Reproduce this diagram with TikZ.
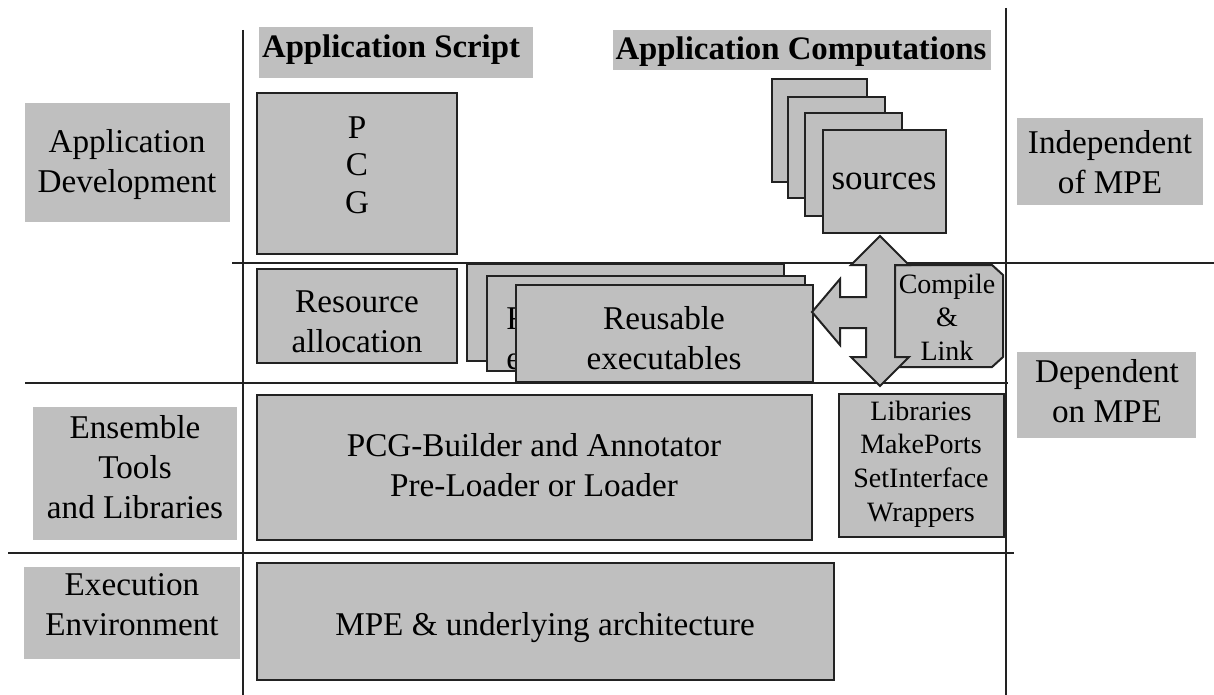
\documentclass[tikz,border=0pt]{standalone}
\usepackage{fontspec}
\setmainfont{Liberation Serif}
\usetikzlibrary{fit}
\definecolor{panel}{HTML}{BFBFBF}
\definecolor{edge}{HTML}{222222}
\tikzset{
  sepline/.style={line width=1pt, draw=edge},
  tag/.style={fill=panel, inner sep=0pt},
  box/.style={fill=panel, draw=edge, line width=1pt, inner sep=0pt},
  txt/.style={align=center, inner sep=0pt, font=\fontsize{16.6}{20}\selectfont},
  pcgtxt/.style={align=center, inner sep=0pt, font=\fontsize{16.6}{18.75}\selectfont},
  small/.style={align=center, inner sep=0pt, font=\fontsize{14}{16.8}\selectfont},
  head/.style={inner sep=0pt, font=\fontsize{16.4}{20}\selectfont\bfseries},
}
\begin{document}
\begin{tikzpicture}[x=0.5pt,y=-0.5pt]
\useasboundingbox (0,0) rectangle (1214,695);

% layer separators
\draw[sepline] (243,30) -- (243,695);
\draw[sepline] (1006,8) -- (1006,695);
\draw[sepline] (232,263) -- (1214,263);
\draw[sepline] (25,383) -- (1008,383);
\draw[sepline] (8,553) -- (1014,553);

% layer titles on the left
\node[tag, fit={(25,103) (230,222)}] (appdev) {};
\node[txt] at (127,165) {Application\\Development};
\node[tag, fit={(33,407) (237,540)}] (ens) {};
\node[txt] at (135,467) {Ensemble\\Tools\\and Libraries};
\node[tag, fit={(24,567) (240,659)}] (exe) {};
\node[txt] at (132,605) {Execution\\Environment};

% titles on the right
\node[tag, fit={(1017,118) (1203,205)}] (indep) {};
\node[txt] at (1110,162) {Independent\\of MPE};
\node[tag, fit={(1017,352) (1196,438)}] (dep) {};
\node[txt] at (1107,391) {Dependent\\on MPE};

% column headings
\node[tag, fit={(259,27) (533,78)}] (hscript) {};
\node[head] at (391,50) {Application Script};
\node[tag, fit={(613,30) (991,70)}] (hcomp) {};
\node[head] at (801,52) {Application Computations};

% application script column
\node[box, fit={(257,93) (457,254)}] (pcg) {};
\node[pcgtxt] at (357,165) {P\\C\\G};
\node[box, fit={(257,269) (457,363)}] (res) {};
\node[txt] at (357,322) {Resource\\allocation};

% stacked executables; the copies behind show only a sliver of their label
\node[box, fit={(467,264) (784,361)}] (exe1) {};
\node[box, fit={(487,276) (805,371)}] (exe2) {};
\begin{scope}
  \clip (488,277) rectangle (515,370);
  \node[txt, align=left, anchor=west] at (506,338) {Reusable\\executables};
\end{scope}
\node[box, fit={(516,285) (813,382)}] (exe3) {};
\node[txt] at (664,338) {Reusable\\executables};

% stacked sources
\node[box, fit={(772,79) (867,182)}] (src1) {};
\node[box, fit={(788,97) (885,198)}] (src2) {};
\node[box, fit={(805,113) (902,216)}] (src3) {};
\node[box, fit={(823,130) (946,233)}] (src4) {};
\node[txt, font=\fontsize{17.5}{20}\selectfont] at (884,181) {sources};

% compile and link panel
\draw[box] (888,265) -- (992,265) -- (1003,275) -- (1003,357) -- (992,367) -- (888,367) -- cycle;
\node[small] (cl) at (947,317) {Compile\\\&\\Link};

% three-way arrow
\draw[box, line join=miter]
  (880,236) -- (909,265) -- (895,265) -- (895,357) -- (909,357) -- (880,386)
  -- (851,357) -- (866,357) -- (866,328) -- (840,328) -- (840,345) -- (812,312)
  -- (840,279) -- (840,297) -- (866,297) -- (866,265) -- (851,265) -- cycle;

% ensemble tools row
\node[box, fit={(257,395) (812,540)}] (builder) {};
\node[txt] at (534,465) {PCG-Builder and Annotator\\Pre-Loader or Loader};
\node[box, fit={(839,394) (1004,537)}] (libs) {};
\node[small] at (921,464) {Libraries\\MakePorts\\SetInterface\\Wrappers};

% execution environment row
\node[box, fit={(257,563) (834,680)}] (mpe) {};
\node[txt] at (545,628) {MPE \& underlying architecture};
\end{tikzpicture}
\end{document}
